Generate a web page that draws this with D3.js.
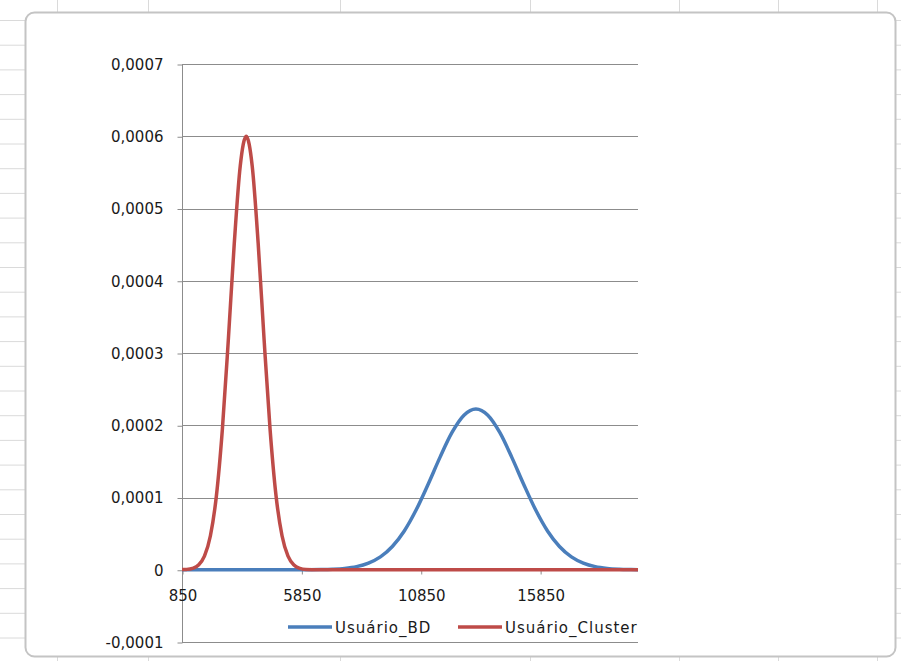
<!DOCTYPE html>
<meta charset="utf-8">
<style>
body { margin: 0; background: #fff; }
text { font-family: "DejaVu Sans", sans-serif; fill: #1a1a1a; }
</style>
<body>
<div id="chart"></div>
<script src="https://d3js.org/d3.v7.min.js"></script>
<script>

// values
var xTicks = [850, 5850, 10850, 15850];
var yTicks = [-0.0001, 0, 0.0001, 0.0002, 0.0003, 0.0004, 0.0005, 0.0006, 0.0007];

var bdX = [850, 6160, 6660, 7160, 7660, 8160, 8660, 9160, 9660, 10160, 10660, 11160, 11660, 12160, 12660,
           13160, 13660, 14160, 14660, 15160, 15660, 16160, 16660, 17160, 17660, 18160, 18660, 19160, 19660, 19950];
var bdY = [0, 0.0000001, 0.0000003, 0.0000008, 0.0000019, 0.0000043, 0.0000092, 0.0000178, 0.0000322, 0.0000537,
           0.000083, 0.0001184, 0.0001559, 0.00019, 0.0002139, 0.0002225, 0.0002139, 0.00019, 0.0001559, 0.0001184,
           0.000083, 0.0000537, 0.0000322, 0.0000178, 0.0000092, 0.0000043, 0.0000019, 0.0000008, 0.0000003, 0.0000001];

var clusterX = [850, 1040, 1290, 1540, 1790, 2040, 2290, 2540, 2790, 3040, 3290, 3540, 3790, 4040, 4290,
                4540, 4790, 5040, 5290, 5540, 5790, 6040, 6540, 19950];
var clusterY = [0.0000002, 0.0000005, 0.000002, 0.0000065, 0.0000188, 0.0000471, 0.000102, 0.000194, 0.000318,
                0.000452, 0.000559, 0.0006, 0.000559, 0.000452, 0.000318, 0.000194, 0.000102, 0.0000471,
                0.0000188, 0.0000065, 0.000002, 0.0000005, 0, 0];

var seriesNames = ["Usuário_BD", "Usuário_Cluster"];
var seriesColors = ["#4a7ebb", "#be4b48"];

var width = 901, height = 661;
var plot = {left: 182, right: 638, top: 64, bottom: 642};

var svg = d3.select("#chart").append("svg")
    .attr("width", width)
    .attr("height", height);

// spreadsheet cells behind the chart object
var rowLines = d3.range(20.5, height, 24.7);
var colLines = [57.5, 148.5, 340.5, 530.5, 679.5, 778.5, 877.5];
svg.selectAll(".row").data(rowLines).enter().append("line")
    .attr("x1", 0).attr("x2", width)
    .attr("y1", function(d) { return d; }).attr("y2", function(d) { return d; })
    .style("stroke", "#dadada");
svg.selectAll(".col").data(colLines).enter().append("line")
    .attr("x1", function(d) { return d; }).attr("x2", function(d) { return d; })
    .attr("y1", 0).attr("y2", height)
    .style("stroke", "#dadada");

svg.append("rect")
    .attr("x", 25.5).attr("y", 12.5)
    .attr("width", 870).attr("height", 644)
    .attr("rx", 9)
    .style("fill", "#fff")
    .style("stroke", "#c4c4c4")
    .style("stroke-width", 2);

var x = d3.scaleLinear()
    .domain([850, 19950])
    .range([plot.left, plot.right]);

var y = d3.scaleLinear()
    .domain([-0.0001, 0.0007])
    .range([plot.bottom, plot.top]);

var fmt = function(d) { return d === 0 ? "0" : d3.format(".4f")(d).replace(".", ",").replace("−", "-"); };

// gridlines
svg.selectAll(".grid").data(yTicks).enter().append("line")
    .attr("x1", plot.left).attr("x2", plot.right)
    .attr("y1", function(d) { return Math.round(y(d)) + 0.5; })
    .attr("y2", function(d) { return Math.round(y(d)) + 0.5; })
    .style("stroke", "#8c8c8c");

// y axis
var yAxis = svg.append("g")
    .attr("transform", "translate(" + (plot.left + 0.5) + ",0.5)")
    .call(d3.axisLeft(y).tickValues(yTicks).tickFormat(fmt).tickSize(5).tickPadding(14));
yAxis.select(".domain").remove();
yAxis.selectAll("line").style("stroke", "#8c8c8c");
yAxis.selectAll("text").style("font-size", "15px").style("fill", "#1a1a1a");
svg.append("line")
    .attr("x1", plot.left + 0.5).attr("x2", plot.left + 0.5)
    .attr("y1", plot.top).attr("y2", plot.bottom + 1)
    .style("stroke", "#8c8c8c");

// x axis on the zero line
var xAxis = svg.append("g")
    .attr("transform", "translate(0.5," + (Math.round(y(0)) + 0.5) + ")")
    .call(d3.axisBottom(x).tickValues(xTicks).tickFormat(d3.format("d")).tickSize(4).tickPadding(16));
xAxis.select(".domain").remove();
xAxis.selectAll("line").style("stroke", "#8c8c8c");
xAxis.selectAll("text").style("font-size", "15px").style("fill", "#1a1a1a");

// curves
var line = d3.line()
    .x(function(d) { return x(d[0]); })
    .y(function(d) { return y(d[1]); })
    .curve(d3.curveMonotoneX);

var series = [d3.zip(bdX, bdY), d3.zip(clusterX, clusterY)];
svg.selectAll(".series").data(series).enter().append("path")
    .attr("d", line)
    .style("fill", "none")
    .style("stroke", function(d, i) { return seriesColors[i]; })
    .style("stroke-width", 3.5)
    .style("stroke-linejoin", "round");

// legend
var legendX = [288, 458];
var legend = svg.selectAll(".legend").data(seriesNames).enter().append("g")
    .attr("transform", function(d, i) { return "translate(" + legendX[i] + ",627)"; });
legend.append("line")
    .attr("x1", 0).attr("x2", 44)
    .style("stroke", function(d, i) { return seriesColors[i]; })
    .style("stroke-width", 3.5);
legend.append("text")
    .attr("x", 47).attr("y", 5.5)
    .style("font-size", "15px")
    .style("letter-spacing", "1px")
    .text(function(d) { return d; });

</script>
</body>
